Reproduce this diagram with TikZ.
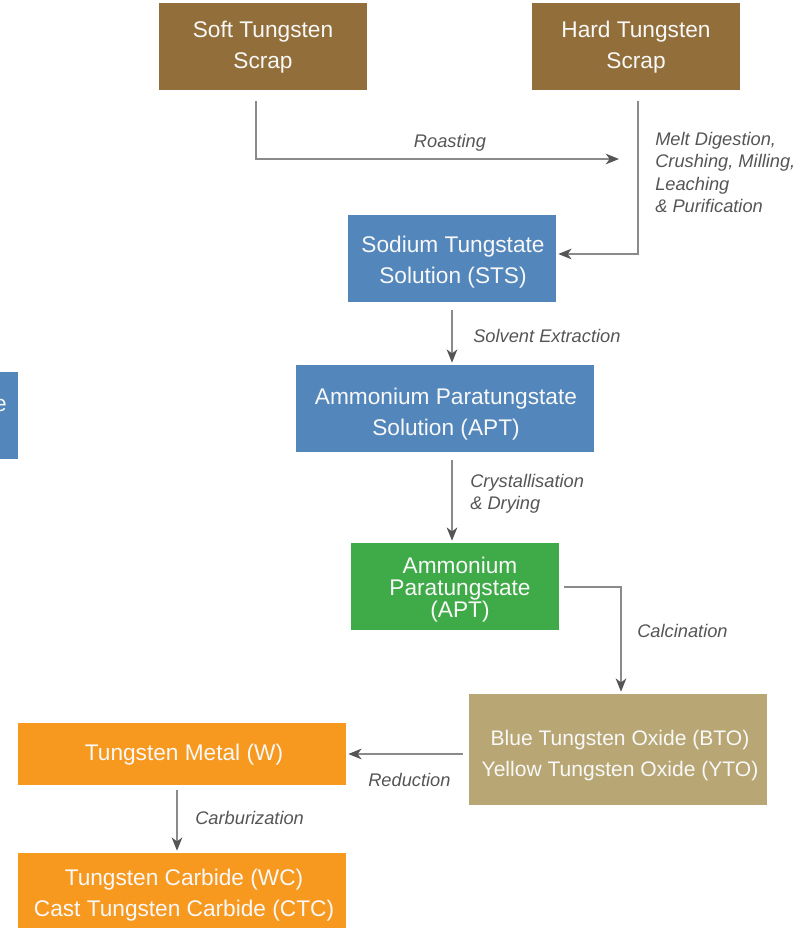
\documentclass[tikz,border=0pt]{standalone}
\usepackage{fontspec}
\setmainfont{Liberation Sans}
\usetikzlibrary{arrows.meta}
\definecolor{brownbox}{HTML}{926F3A}
\definecolor{bluebox}{HTML}{5386BB}
\definecolor{greenbox}{HTML}{3FAB48}
\definecolor{tanbox}{HTML}{B8A774}
\definecolor{orangebox}{HTML}{F7991F}
\definecolor{boxtext}{HTML}{F8F8F8}
\definecolor{lbl}{HTML}{555555}
\definecolor{conn}{HTML}{8A8A8A}
\tikzset{
  box/.style={rectangle, inner sep=0pt},
  boxtxt/.style={inner sep=0pt, text=boxtext, align=center,
    font=\fontsize{17}{23.3}\selectfont},
  lab/.style={inner sep=0pt, text=lbl, font=\fontsize{13.7}{16.8}\selectfont\itshape},
  conn/.style={draw=conn, line width=1.1pt,
    -{Stealth[length=10pt,width=8pt,inset=3pt,fill=lbl,color=lbl]}},
}
\begin{document}
\begin{tikzpicture}[x=0.75pt,y=-0.75pt]
\useasboundingbox (0,0) rectangle (795,928);
\clip (0,0) rectangle (795,928);
% partial box at the left edge
\fill[bluebox] (-80,372) rectangle (18,459);
\node[boxtxt, anchor=east] (partial) at (7,406) {e};
% boxes
\node[box, fill=brownbox, minimum width=208*0.75pt, minimum height=87*0.75pt] (soft) at (263,46.5) {};
\node[boxtxt] (softtext) at (263,47) {Soft Tungsten\\Scrap};
\node[box, fill=brownbox, minimum width=208*0.75pt, minimum height=87*0.75pt] (hard) at (636,46.5) {};
\node[boxtxt] (hardtext) at (636,47) {Hard Tungsten\\Scrap};
\node[box, fill=bluebox, minimum width=208*0.75pt, minimum height=87*0.75pt] (sts) at (452,258.5) {};
\node[boxtxt] (ststext) at (453,262) {Sodium Tungstate\\Solution (STS)};
\node[box, fill=bluebox, minimum width=298*0.75pt, minimum height=87*0.75pt] (aptsol) at (445,408.5) {};
\node[boxtxt] (aptsoltext) at (446,414.5) {Ammonium Paratungstate\\Solution (APT)};
\node[box, fill=greenbox, minimum width=208*0.75pt, minimum height=87*0.75pt] (apt) at (455,586.5) {};
\node[boxtxt, font=\fontsize{17}{16.5}\selectfont] (apttext) at (460,589.5) {Ammonium\\Paratungstate\\(APT)};
\node[box, fill=tanbox, minimum width=298*0.75pt, minimum height=111*0.75pt] (bto) at (618,749.5) {};
\node[boxtxt, font=\fontsize{15.8}{23.3}\selectfont] (btotext) at (620,755.5) {Blue Tungsten Oxide (BTO)\\Yellow Tungsten Oxide (YTO)};
\node[box, fill=orangebox, minimum width=328*0.75pt, minimum height=62*0.75pt] (w) at (182,754) {};
\node[boxtxt] (wtext) at (184,755) {Tungsten Metal (W)};
\node[box, fill=orangebox, minimum width=328*0.75pt, minimum height=87*0.75pt] (wc) at (182,896.5) {};
\node[boxtxt] (wctext) at (184,895.5) {Tungsten Carbide (WC)\\Cast Tungsten Carbide (CTC)};
% connector helpers
\coordinate (roastend) at (619,159);
\coordinate (roastbend) at (256,159);
\coordinate (hardbend) at (638,254);
\coordinate (calcbend) at (621,587);
% connectors
\draw[conn, shorten <=11*0.75pt] ([xshift=-7*0.75pt]soft.south) -- (roastbend) -- (roastend);
\draw[conn, shorten <=11*0.75pt, shorten >=2*0.75pt] ([xshift=2*0.75pt]hard.south) -- (hardbend) -- (sts.east |- hardbend);
\draw[conn, shorten <=8*0.75pt, shorten >=2*0.75pt] (sts.south) -- (sts.south |- aptsol.north);
\draw[conn, shorten <=8*0.75pt, shorten >=2*0.75pt] (aptsol.south -| sts.south) -- (sts.south |- apt.north);
\draw[conn, shorten <=5*0.75pt, shorten >=2*0.75pt] (apt.east |- calcbend) -- (calcbend) -- (calcbend |- bto.north);
\draw[conn, shorten <=6*0.75pt, shorten >=2*0.75pt] (bto.west |- w.east) -- (w.east);
\draw[conn, shorten <=5*0.75pt, shorten >=2*0.75pt] ([xshift=-5*0.75pt]w.south) -- ([xshift=-5*0.75pt]w.south |- wc.north);
% labels
\node[lab] (lroast) at (450,143) {Roasting};
\node[lab, anchor=west, align=left] (lmelt) at (655,172.5) {Melt Digestion,\\Crushing, Milling,\\Leaching\\\& Purification};
\node[lab, anchor=west] (lsolv) at (473,336) {Solvent Extraction};
\node[lab, anchor=west, align=left] (lcryst) at (470,494) {Crystallisation\\\& Drying};
\node[lab, anchor=west] (lcalc) at (637,631) {Calcination};
\node[lab, anchor=west] (lred) at (368,780) {Reduction};
\node[lab, anchor=west] (lcarb) at (195,818) {Carburization};
\end{tikzpicture}
\end{document}
